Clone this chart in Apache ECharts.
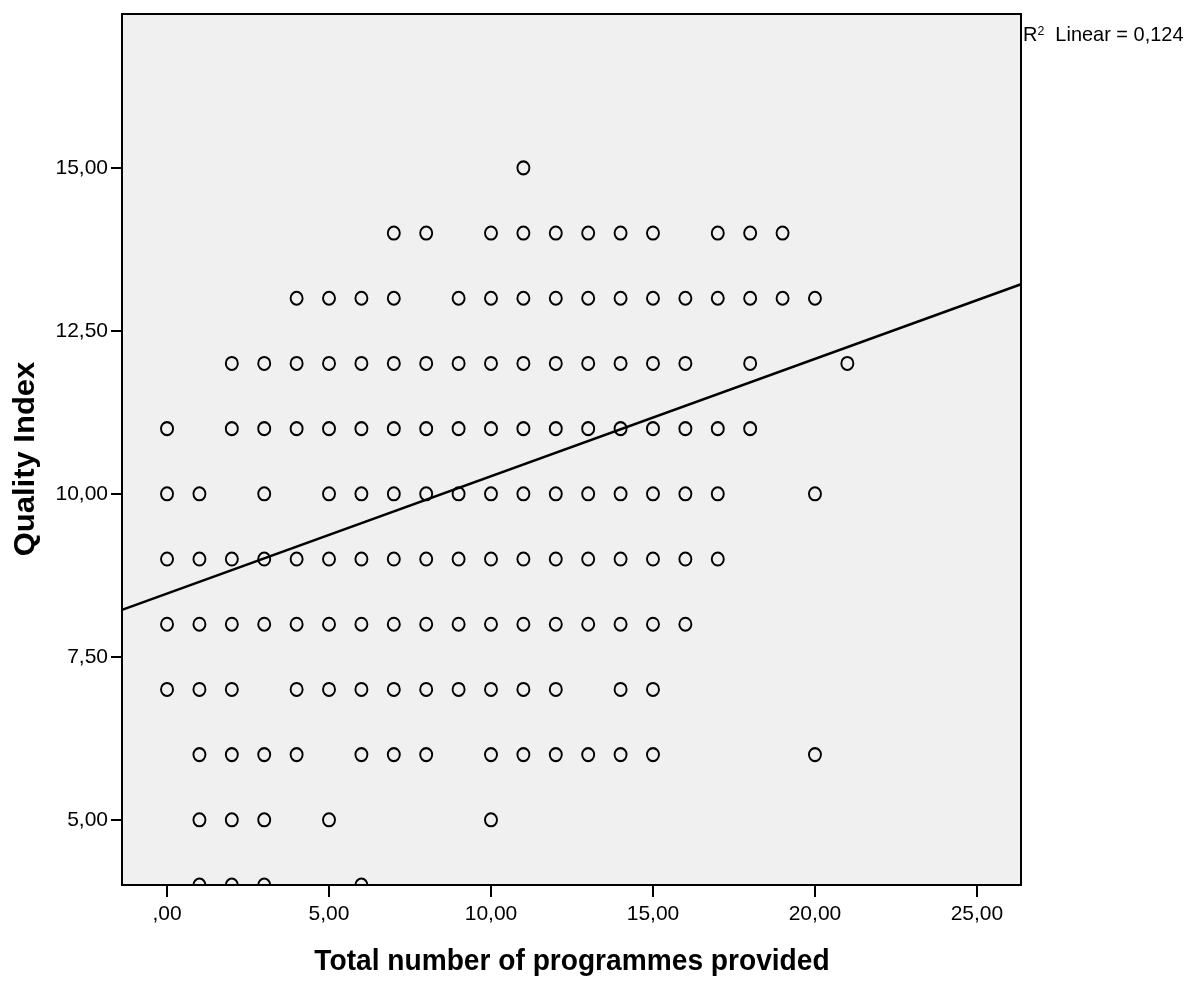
<!DOCTYPE html>
<html>
<head>
<meta charset="utf-8">
<script src="https://cdn.jsdelivr.net/npm/echarts@6/dist/echarts.min.js"></script>
<style>
html,body{margin:0;padding:0;background:#fff;}
#chart{width:1200px;height:999px;}
</style>
</head>
<body>
<div id="chart"></div>
<script>
// Quality Index levels and the "Total number of programmes provided" values observed at each level
const qualityLevels = [15, 14, 13, 12, 11, 10, 9, 8, 7, 6, 5, 4];
const programmesAtLevel = [
  [11],
  [7, 8, 10, 11, 12, 13, 14, 15, 17, 18, 19],
  [4, 5, 6, 7, 9, 10, 11, 12, 13, 14, 15, 16, 17, 18, 19, 20],
  [2, 3, 4, 5, 6, 7, 8, 9, 10, 11, 12, 13, 14, 15, 16, 18, 21],
  [0, 2, 3, 4, 5, 6, 7, 8, 9, 10, 11, 12, 13, 14, 15, 16, 17, 18],
  [0, 1, 3, 5, 6, 7, 8, 9, 10, 11, 12, 13, 14, 15, 16, 17, 20],
  [0, 1, 2, 3, 4, 5, 6, 7, 8, 9, 10, 11, 12, 13, 14, 15, 16, 17],
  [0, 1, 2, 3, 4, 5, 6, 7, 8, 9, 10, 11, 12, 13, 14, 15, 16],
  [0, 1, 2, 4, 5, 6, 7, 8, 9, 10, 11, 12, 14, 15],
  [1, 2, 3, 4, 6, 7, 8, 10, 11, 12, 13, 14, 15, 20],
  [1, 2, 3, 5, 10],
  [1, 2, 3, 6]
];
// Linear fit
const fitIntercept = 8.47;
const fitSlope = 0.18;
const rSquaredText = '0,124';
// Axis ticks
const xTicks = [0, 5, 10, 15, 20, 25];
const yTicks = [5, 7.5, 10, 12.5, 15];
const xRange = [-1.39, 26.36];
const yRange = [4, 17.36];
const xTitle = 'Total number of programmes provided';
const yTitle = 'Quality Index';

const points = [];
qualityLevels.forEach((q, i) => {
  programmesAtLevel[i].forEach(x => points.push([x, q]));
});
const fitLine = [
  [xRange[0], fitIntercept + fitSlope * xRange[0]],
  [xRange[1], fitIntercept + fitSlope * xRange[1]]
];

const fmt = v => {
  const s = v.toFixed(2).replace('.', ',');
  return s.startsWith('0,') ? s.slice(1) : s;
};

const chart = echarts.init(document.getElementById('chart'), null, {renderer: 'canvas'});
const FONT = '"Liberation Sans", Arial, sans-serif';
chart.setOption({
  animation: false,
  backgroundColor: '#ffffff',
  grid: {
    left: 122, top: 14, width: 899, height: 871,
    show: true, backgroundColor: '#f0f0f0', borderColor: '#000', borderWidth: 2
  },
  xAxis: {
    type: 'value', min: xRange[0], max: xRange[1], z: 10,
    axisLine: {show: true, onZero: false, lineStyle: {color: '#000', width: 2}},
    axisTick: {show: true, length: 12, lineStyle: {color: '#000', width: 2}, customValues: xTicks},
    axisLabel: {color: '#000', fontSize: 21, fontFamily: FONT, margin: 19, customValues: xTicks, formatter: fmt},
    splitLine: {show: false}
  },
  yAxis: {
    type: 'value', min: yRange[0], max: yRange[1], z: 10,
    axisLine: {show: true, onZero: false, lineStyle: {color: '#000', width: 2}},
    axisTick: {show: true, length: 11, lineStyle: {color: '#000', width: 2}, customValues: yTicks},
    axisLabel: {color: '#000', fontSize: 21, fontFamily: FONT, margin: 14, customValues: yTicks, formatter: fmt},
    splitLine: {show: false}
  },
  graphic: [
    {type: 'rect', z: 5, silent: true, shape: {x: 110, y: 886, width: 930, height: 20}, style: {fill: '#ffffff'}},
    {type: 'text', z: 20, x: 572, y: 962, scaleX: 0.97, style: {text: xTitle, font: 'bold 29px ' + FONT, fill: '#000', align: 'center', verticalAlign: 'middle'}},
    {type: 'text', z: 20, x: 26, y: 459, rotation: Math.PI / 2, scaleY: 0.93, style: {text: yTitle, font: 'bold 31px ' + FONT, fill: '#000', align: 'center', verticalAlign: 'middle'}},
    {type: 'text', z: 20, x: 1023, y: 35, scaleX: 0.95, style: {
      text: '{r|R}{sup|2}{r|  Linear = ' + rSquaredText + '}',
      rich: {
        r: {fontSize: 21, fontFamily: FONT, fill: '#000', verticalAlign: 'bottom'},
        sup: {fontSize: 13, fontFamily: FONT, fill: '#000', verticalAlign: 'top', padding: [0, 0, 8, 0]}
      },
      verticalAlign: 'middle'
    }}
  ],
  series: [
    {
      type: 'scatter', z: 2, silent: true, clip: false,
      symbol: 'circle', symbolSize: [12, 13],
      itemStyle: {color: 'rgba(0,0,0,0)', borderColor: '#000', borderWidth: 2, opacity: 1},
      data: points
    },
    {
      type: 'line', z: 3, silent: true, symbol: 'none',
      lineStyle: {color: '#000', width: 2.5},
      data: fitLine
    }
  ]
});
</script>
</body>
</html>
